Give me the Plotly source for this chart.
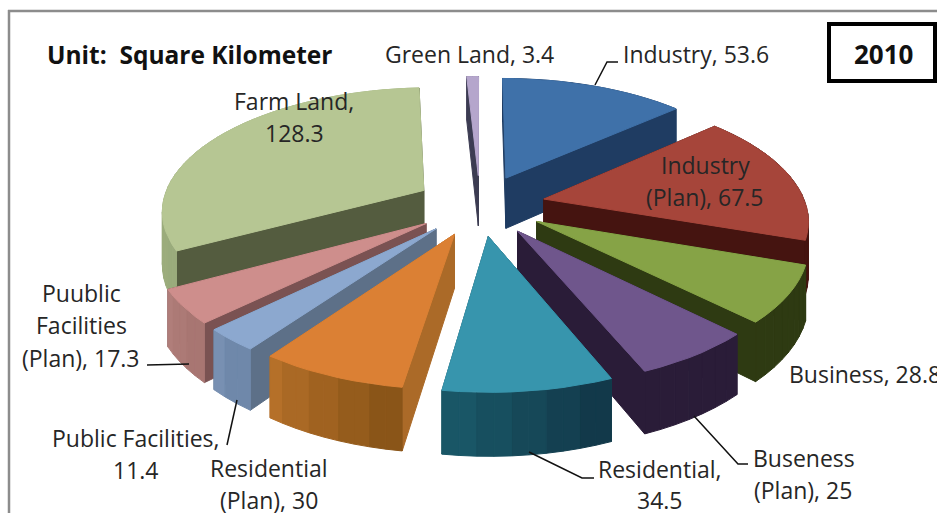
import math
import plotly.graph_objects as go

# ---- data ----
categories = ["Industry", "Industry (Plan)", "Business", "Buseness (Plan)", "Residential",
              "Residential (Plan)", "Public Facilities", "Puublic Facilities (Plan)",
              "Farm Land", "Green Land"]
values = [53.6, 67.5, 28.8, 25, 34.5, 30, 11.4, 17.3, 128.3, 3.4]

# ---- styles ----
top_colors = ["#3F71A9", "#A6453A", "#86A346", "#6F568C", "#3795AD",
              "#DB8034", "#8CA8CF", "#CE8E8C", "#B6C693", "#B5A6CC"]
radial_colors = ["#1F3C62", "#451410", "#2E3A12", "#2A1C38", "#17505E",
                 "#AB6A28", "#5D7088", "#7A5252", "#545C3F", "#3C3C52"]
outer_from = ["#1F3C62", "#451410", "#2E3A12", "#2A1C38", "#12394A",
              "#8A5518", "#6F88AA", "#A87672", "#9AAB7C", "#6E6385"]
outer_to = ["#1F3C62", "#451410", "#2E3A12", "#2A1C38", "#1A5A69",
            "#B57029", "#7890B2", "#B07E7A", "#A4B585", "#6E6385"]

CX, CY = 480, 205
A, B, P = 262, 122, 0.15
EXPLODE, HEIGHT = 0.25, 52


def project(x, y, z=0.0):
    s = 1 / (1 + P * y)
    return CX + A * x * s, CY - B * y * s + HEIGHT * z * s


def mix(c1, c2, t):
    a = [int(c1[i:i + 2], 16) for i in (1, 3, 5)]
    b = [int(c2[i:i + 2], 16) for i in (1, 3, 5)]
    return "#%02x%02x%02x" % tuple(round(p + (q - p) * t) for p, q in zip(a, b))


fig = go.Figure()


def poly(points, color):
    xs = [p[0] for p in points] + [points[0][0]]
    ys = [p[1] for p in points] + [points[0][1]]
    fig.add_trace(go.Scatter(x=xs, y=ys, mode="lines", fill="toself", fillcolor=color,
                             line=dict(color=color, width=1), hoverinfo="skip", showlegend=False))


total = sum(values)
slices = []
cum = 0.0
for i, v in enumerate(values):
    a0 = cum / total * 2 * math.pi
    a1 = (cum + v) / total * 2 * math.pi
    cum += v
    m = (a0 + a1) / 2
    ox, oy = EXPLODE * math.sin(m), EXPLODE * math.cos(m)
    slices.append((oy, i, a0, a1, ox))

# painter's order: back slices first
for oy, i, a0, a1, ox in sorted(slices, key=lambda s: -s[0]):
    n = max(2, int((a1 - a0) / math.radians(3)))
    angles = [a0 + (a1 - a0) * k / n for k in range(n + 1)]
    rim = [(ox + math.sin(t), oy + math.cos(t)) for t in angles]
    apex = (ox, oy)
    walls = []
    for k in range(n):
        p, q = rim[k], rim[k + 1]
        band = (k // 2) * 2 / max(1, n - 1)
        walls.append(((p[1] + q[1]) / 2, [p, q], mix(outer_from[i], outer_to[i], min(1, band))))
    walls.append(((apex[1] + rim[0][1]) / 2, [apex, rim[0]], radial_colors[i]))
    walls.append(((apex[1] + rim[-1][1]) / 2, [apex, rim[-1]], radial_colors[i]))
    for _, (p, q), col in sorted(walls, key=lambda w: -w[0]):
        poly([project(*p), project(*q), project(q[0], q[1], 1), project(p[0], p[1], 1)], col)
    poly([project(*apex)] + [project(*r) for r in rim], top_colors[i])

# ---- text ----
FONT = "Open Sans"
SIZE = 23
label_lines = [
    ("Green Land, 3.4", 469, 54), ("Industry, 53.6", 696, 54),
    ("Farm Land,", 294, 101), ("128.3", 294, 133),
    ("Industry", 705, 165), ("(Plan), 67.5", 705, 197),
    ("Buseness", 804, 458), ("(Plan), 25", 803, 490),
    ("Residential,", 660, 469), ("34.5", 660, 500),
    ("Residential", 269, 468), ("(Plan), 30", 269, 500),
    ("Public Facilities,", 136, 438), ("11.4", 136, 470),
    ("Puublic", 81, 293), ("Facilities", 81, 325), ("(Plan), 17.3", 81, 358),
]
ann = [dict(text=t, x=x, y=y, xref="x", yref="y", showarrow=False, xanchor="center", yanchor="middle",
            font=dict(family=FONT, size=SIZE, color="#262626")) for t, x, y in label_lines]
ann.append(dict(text="Business, 28.8", x=787, y=374, xref="x", yref="y", showarrow=False, xanchor="left",
                yanchor="middle", font=dict(family=FONT, size=SIZE, color="#262626")))
ann.append(dict(text="<b>Unit:  Square Kilometer</b>", x=45, y=54, xref="x", yref="y", showarrow=False,
                xanchor="left", yanchor="middle", font=dict(family=FONT, size=24.5, color="#111111")))
ann.append(dict(text="<b>2010</b>", x=883, y=54, xref="x", yref="y", showarrow=False,
                font=dict(family=FONT, size=26, color="#111111")))

leaders = [
    [(595, 85), (607, 62), (618, 62)],
    [(147, 365), (189, 364)],
    [(237, 400), (227, 445)],
    [(529, 452), (582, 478), (594, 478)],
    [(694, 416), (738, 464), (748, 464)],
]
for line in leaders:
    fig.add_trace(go.Scatter(x=[p[0] for p in line], y=[p[1] for p in line], mode="lines",
                             line=dict(color="#111111", width=1.5), hoverinfo="skip", showlegend=False))

shapes = [
    dict(type="line", x0=9, x1=9, y0=10, y1=513, xref="x", yref="y", line=dict(color="#8C8C8C", width=2.5)),
    dict(type="line", x0=8, x1=937, y0=11, y1=11, xref="x", yref="y", line=dict(color="#8C8C8C", width=2.5)),
    dict(type="rect", x0=829, x1=935, y0=24, y1=81, xref="x", yref="y",
         line=dict(color="#000000", width=4), fillcolor="#FFFFFF", layer="below"),
]

fig.update_layout(
    width=937, height=513, margin=dict(l=0, r=0, t=0, b=0),
    paper_bgcolor="#FFFFFF", plot_bgcolor="#FFFFFF", showlegend=False,
    xaxis=dict(range=[0, 937], visible=False, fixedrange=True),
    yaxis=dict(range=[513, 0], visible=False, fixedrange=True),
    annotations=ann, shapes=shapes,
)
fig.write_html("out.html", config={"displayModeBar": False},
               post_script="document.body.style.margin='0';document.body.style.overflow='hidden';")
